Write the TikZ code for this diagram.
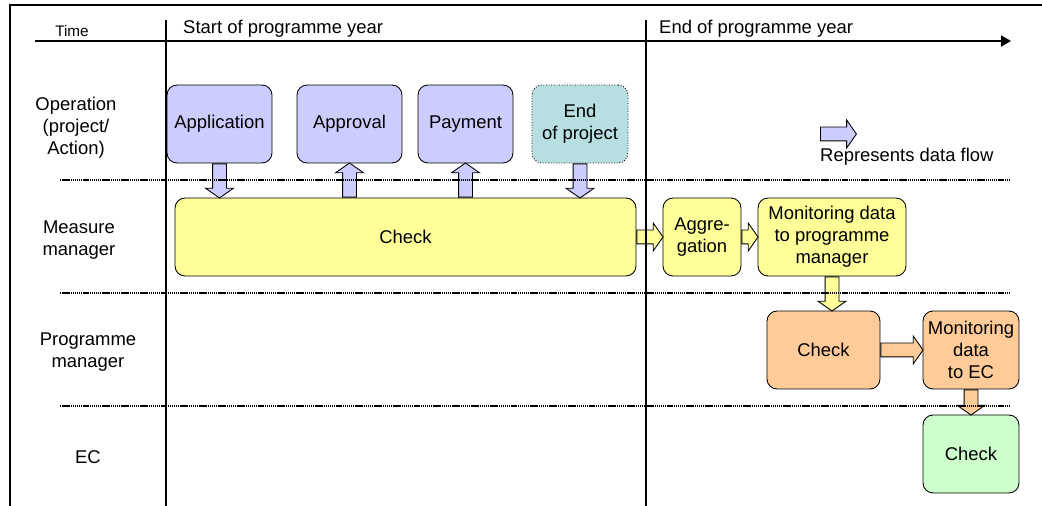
\documentclass[tikz,border=0pt]{standalone}
\usepackage{fontspec}
\setmainfont{Liberation Sans}
\usetikzlibrary{shapes.arrows}
\usetikzlibrary{arrows.meta}
\usetikzlibrary{calc}
\usepackage{xcolor}
\definecolor{opblue}{RGB}{204,204,255}
\definecolor{endteal}{RGB}{183,222,225}
\definecolor{mmyellow}{RGB}{255,255,153}
\definecolor{pmorange}{RGB}{255,204,153}
\definecolor{ecgreen}{RGB}{204,255,204}

\newcommand{\dataflow}[3]{%
  \path let \p1=($(#3)-(#2)$), \n1={veclen(\x1,\y1)} in
    (#2) -- node[flowarrow, fill=#1, pos=0, anchor=tail, minimum height=\n1] {} (#3);}

\begin{document}
\begin{tikzpicture}[x=0.02cm, y=-0.02cm,
  every node/.style={font=\fontsize{10.5}{12.5}\selectfont, align=center},
  step box/.style={draw, line width=0.5pt, rounded corners=0.2cm, minimum height=1.56cm, inner sep=1pt},
  flowarrow/.style={single arrow, draw, line width=0.5pt, sloped, allow upside down,
    inner xsep=0pt, inner ysep=0.13cm, single arrow head extend=0.14cm, single arrow tip angle=110},
  lane/.style={line width=1.2pt, dash pattern=on 0.8pt off 0.4pt}]
\useasboundingbox (0,0) rectangle (1042,506);

\node (time) at (72,31) {\fontsize{8.7}{10}\selectfont Time};
\node[anchor=west] (start) at (177,29) {Start of programme year};
\node[anchor=west] (end) at (653,29) {End of programme year};

\node (op) at (76,127.5) {Operation\\(project/\\Action)};
\node (mm) at (79,240) {Measure\\manager};
\node (pm) at (88,352) {Programme\\manager};
\node (ec) at (88,457) {EC};

\node[step box, fill=opblue, minimum width=2.1cm] (app) at (219.5,124) {Application};
\node[step box, fill=opblue, minimum width=2.1cm] (appr) at (349.5,124) {Approval};
\node[step box, fill=opblue, minimum width=1.9cm] (pay) at (465.5,124) {Payment};
\node[step box, fill=endteal, densely dotted, minimum width=1.92cm] (endp) at (580,124) {End\\of project};
\node[step box, fill=mmyellow, minimum width=9.22cm] (mmchk) at (405.5,237) {Check};
\node[step box, fill=mmyellow, minimum width=1.56cm] (aggr) at (702,237) {Aggre-\\gation};
\node[step box, fill=mmyellow, minimum width=2.96cm] (mondata) at (832,237) {Monitoring data\\to programme\\manager};
\node[step box, fill=pmorange, minimum width=2.26cm] (pmchk) at (823.5,350) {Check};
\node[step box, fill=pmorange, minimum width=1.92cm] (monec) at (971,350) {Monitoring\\data\\to EC};
\node[step box, fill=ecgreen, minimum width=1.92cm] (ecchk) at (971,454) {Check};

\dataflow{opblue}{app.south}{app.south |- mmchk.north}
\dataflow{opblue}{appr.south |- mmchk.north}{appr.south}
\dataflow{opblue}{pay.south |- mmchk.north}{pay.south}
\dataflow{opblue}{endp.south}{endp.south |- mmchk.north}
\dataflow{mmyellow}{mmchk.east}{aggr.west}
\dataflow{mmyellow}{aggr.east}{mondata.west}
\dataflow{mmyellow}{mondata.south}{mondata.south |- pmchk.north}
\dataflow{pmorange}{pmchk.east}{monec.west}
\dataflow{pmorange}{monec.south}{ecchk.north}

\node[flowarrow, fill=opblue, minimum height=0.72cm] (legend) at (836,134) {};
\node[anchor=west] (legendtxt) at (814,157) {Represents data flow};

\draw[line width=0.6pt] (10,506) -- (10,5) -- (1042,5);
\draw[line width=1.1pt, -{Triangle[length=0.2cm, width=0.22cm]}] (35,41) -- (1011,41);
\draw[line width=1.1pt] (166,20) -- (166,506);
\draw[line width=1.1pt] (646,20) -- (646,506);
\foreach \y in {180,293,406}
  \draw[lane] (60,\y) -- (1010,\y);
\end{tikzpicture}
\end{document}
